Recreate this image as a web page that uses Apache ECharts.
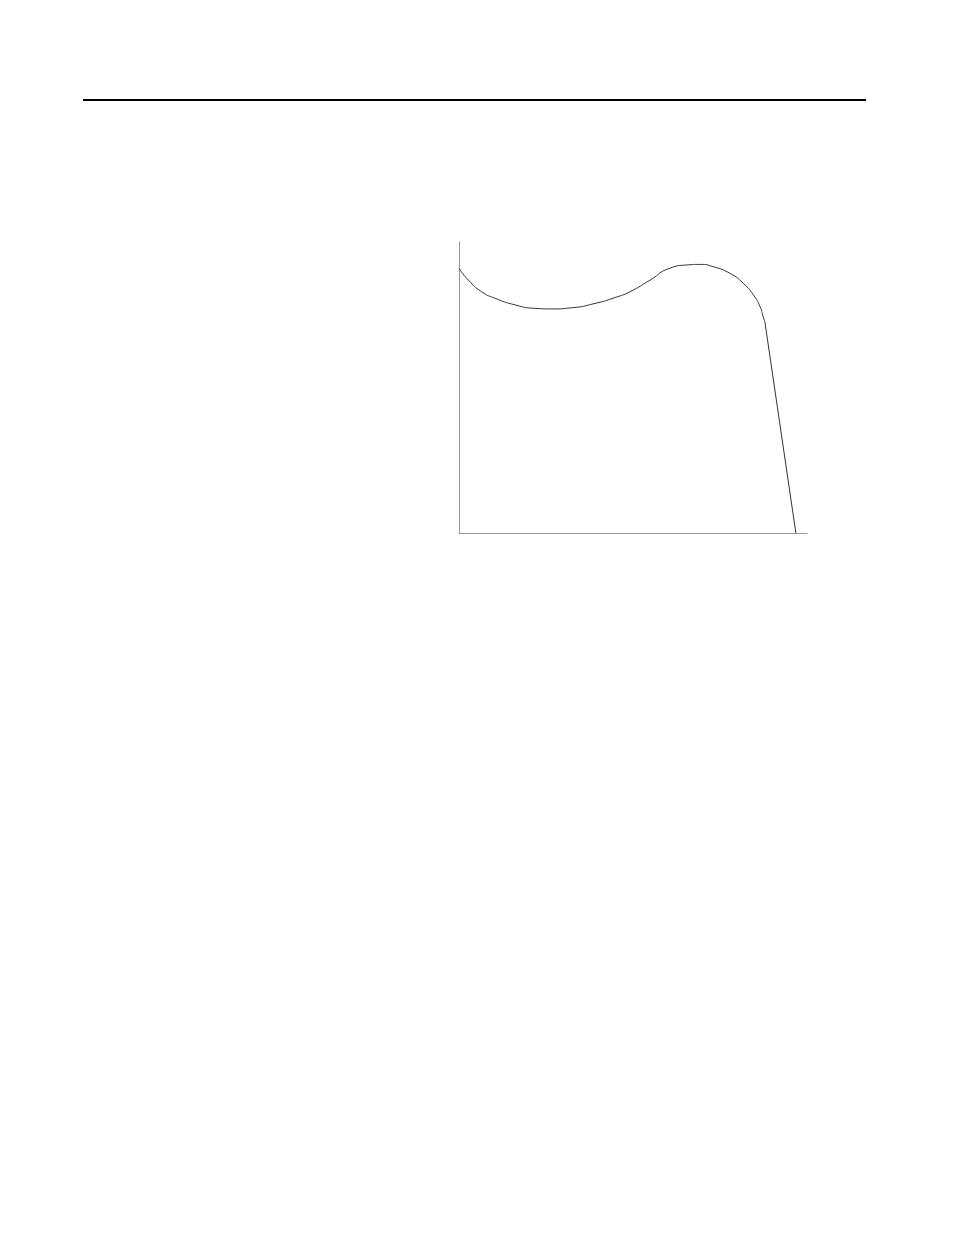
<!DOCTYPE html>
<html>
<head>
<meta charset="utf-8">
<script src="https://cdn.jsdelivr.net/npm/echarts@6/dist/echarts.min.js"></script>
<style>html,body{margin:0;padding:0;background:#fff;}#c{width:954px;height:1235px;}</style>
</head>
<body>
<div id="c"></div>
<script>
// Curve (smooth part): x and y in percent of axis range
var curveX = [0, 2.7, 6.5, 10.3, 16.1, 21.8, 26.6, 32.4, 39.1, 44.8, 49.1, 54.9, 60.6, 65.4, 69.3, 73.1, 77.9, 81.7, 84.6, 86.5, 87.4, 87.9];
var curveY = [91.0, 86.9, 82.9, 80.7, 78.4, 77.2, 77.0, 77.4, 78.9, 80.9, 82.9, 86.9, 91.0, 92.1, 92.3, 91.5, 89.2, 85.8, 81.8, 77.8, 74.3, 72.5];
// Straight drop-off segment
var dropX = [87.9, 96.8];
var dropY = [72.5, 0];

function pairs(xs, ys) { return xs.map(function (x, i) { return [x, ys[i]]; }); }

var chart = echarts.init(document.getElementById('c'), null, { renderer: 'canvas' });
chart.setOption({
  animation: false,
  backgroundColor: '#ffffff',
  grid: { left: 459, top: 242, width: 348, height: 291 },
  xAxis: {
    type: 'value', min: 0, max: 100,
    axisLine: { show: true, lineStyle: { color: '#999999', width: 1 } },
    axisTick: { show: false }, axisLabel: { show: false }, splitLine: { show: false }
  },
  yAxis: {
    type: 'value', min: 0, max: 100,
    axisLine: { show: true, lineStyle: { color: '#999999', width: 1 } },
    axisTick: { show: false }, axisLabel: { show: false }, splitLine: { show: false }
  },
  graphic: [
    { type: 'line', shape: { x1: 83, y1: 100, x2: 866, y2: 100 }, style: { stroke: '#000', lineWidth: 2 } }
  ],
  series: [
    {
      type: 'line', data: pairs(curveX, curveY), smooth: 0.6, symbol: 'none',
      lineStyle: { color: '#333333', width: 1 }
    },
    {
      type: 'line', data: pairs(dropX, dropY), smooth: false, symbol: 'none',
      lineStyle: { color: '#333333', width: 1 }
    }
  ]
});
</script>
</body>
</html>
